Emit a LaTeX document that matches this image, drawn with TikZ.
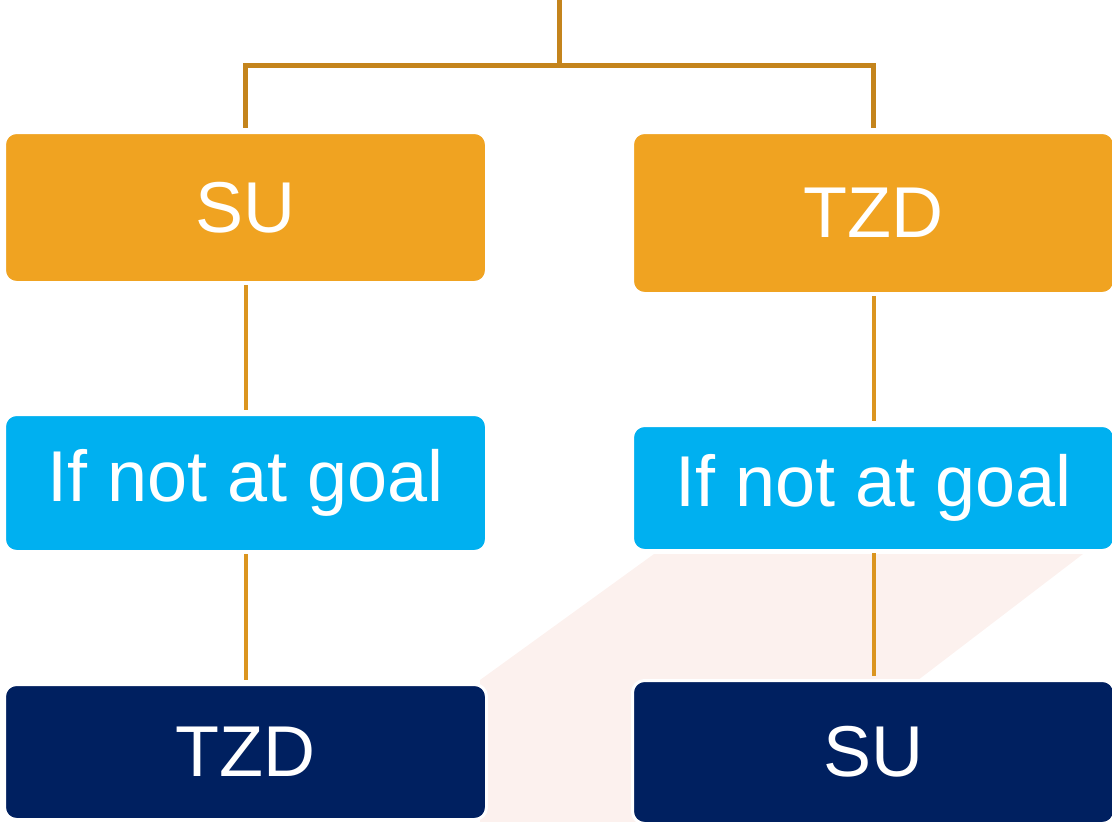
\documentclass[tikz,border=0pt]{standalone}
\usepackage{fontspec}
\setmainfont{Liberation Sans}
\usepackage{xcolor}
\usepackage{tikz}
\usetikzlibrary{calc}
\definecolor{orangebox}{HTML}{F0A321}
\definecolor{cyanbox}{HTML}{00B0F0}
\definecolor{navybox}{HTML}{002060}
\definecolor{trunkline}{HTML}{C4841C}
\definecolor{linkline}{HTML}{DB951F}
\definecolor{blush}{HTML}{FCF1EE}
\tikzset{
  box/.style={rectangle, rounded corners=12pt, draw=white, line width=3pt,
    minimum width=482pt, text=white, font=\fontsize{72}{80}\selectfont},
  trunk/.style={draw=trunkline, line width=5pt},
  link/.style={draw=linkline, line width=4pt, shorten <=1pt, shorten >=3pt}
}

\begin{document}
\begin{tikzpicture}[x=1pt, y=-1pt]
  \useasboundingbox (0,0) rectangle (1112,822);

  % Shaded band behind the lower row
  \fill[blush] (654,554) -- (1083,554) -- (905,690) -- (905,822)
    -- (480,822) -- (480,680) -- cycle;

  % Boxes
  \node[box, fill=orangebox, minimum height=150pt] (su1) at (245.5,207.5) {SU};
  \node[box, fill=orangebox, minimum height=161pt] (tzd1) at (873.5,213) {TZD};
  \node[box, fill=cyanbox, minimum height=137pt] (if1) at (245.5,483) {If not at goal};
  \node[box, fill=cyanbox, minimum height=125pt] (if2) at (873.5,488) {If not at goal};
  \node[box, fill=navybox, minimum height=135pt] (tzd2) at (245.5,752) {TZD};
  \node[box, fill=navybox, minimum height=143pt] (su2) at (873.5,752) {SU};

  % Top bracket
  \coordinate (top) at (559,0);
  \coordinate (jn) at (559,65);
  \draw[trunk] (top) -- (jn);
  \draw[trunk, shorten >=3pt] (jn) -| (su1.north);
  \draw[trunk, shorten >=3pt] (jn) -| (tzd1.north);

  % Links down each column
  \draw[link] (su1) -- (if1);
  \draw[link] (if1) -- (tzd2);
  \draw[link] (tzd1) -- (if2);
  \draw[link] (if2) -- (su2);
\end{tikzpicture}
\end{document}
